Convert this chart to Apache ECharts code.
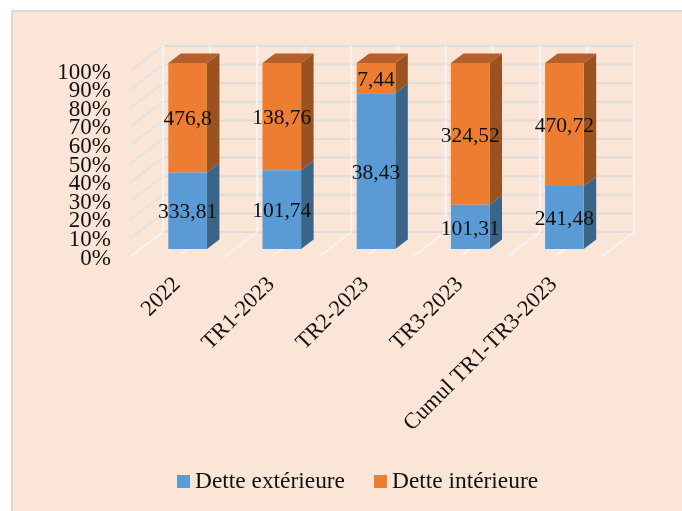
<!DOCTYPE html>
<html>
<head>
<meta charset="utf-8">
<style>html,body{margin:0;padding:0;background:#fff}#c{width:682px;height:511px}</style>
<script src="https://cdn.jsdelivr.net/npm/echarts@6/dist/echarts.min.js"></script>
</head>
<body>
<div id="c"></div>
<script>
const categories = ['2022', 'TR1-2023', 'TR2-2023', 'TR3-2023', 'Cumul TR1-TR3-2023'];
const exterieure = [333.81, 101.74, 38.43, 101.31, 241.48];
const interieure = [476.8, 138.76, 7.44, 324.52, 470.72];
const percentTicks = [0, 10, 20, 30, 40, 50, 60, 70, 80, 90, 100];
const halfSteps = [0, 1, 2, 3, 4, 5, 6, 7, 8, 9, 10];

const FONT = '"Liberation Serif", serif';
const WALL = [33, -25];          // depth of the 3D box
const BAR_NEAR = [10.5, -8];     // front face of bars inside the box
const BAR_DEPTH = [12.5, -9.5];  // bar thickness in depth
const BAR_RATIO = 0.41;
const fmt = v => String(v).replace('.', ',');

function wallGrid(params, api) {
  const v = api.value(1);
  const p = api.coord([0, v]);
  const band = api.size([1, 0])[0];
  const x0 = p[0] - band / 2, y0 = p[1];
  const xb = x0 + WALL[0], yb = y0 + WALL[1];
  return {
    type: 'group', children: [
      { type: 'line', shape: { x1: x0, y1: y0, x2: xb, y2: yb },
        style: { stroke: v === 0 ? '#f3f1ef' : '#e1e3e4', lineWidth: 2 } },
      { type: 'line', shape: { x1: xb, y1: yb, x2: xb + band * categories.length, y2: yb },
        style: { stroke: '#dfdcda', lineWidth: 2 } },
      { type: 'text', style: { x: x0 - 19, y: y0 + 1.5, text: v + '%', fill: '#111',
        font: '23px ' + FONT, align: 'right', verticalAlign: 'middle' } }
    ]
  };
}

function wallVerticals(params, api) {
  const k = api.value(0);
  const first = api.coord([0, 0]);
  const top = api.coord([0, 100]);
  const band = api.size([1, 0])[0];
  const x0 = first[0] - band / 2 + k * band / 2;
  const y0 = first[1];
  const st = { stroke: '#f6f3f1', lineWidth: 2 };
  return {
    type: 'group', children: [
      { type: 'line', shape: { x1: x0 + WALL[0], y1: top[1] + WALL[1], x2: x0 + WALL[0], y2: y0 + WALL[1] }, style: st },
      { type: 'line', shape: { x1: x0, y1: y0, x2: x0 + WALL[0], y2: y0 + WALL[1] }, style: st }
    ]
  };
}

function makeBar(colors, isTop) {
  return function (params, api) {
    const i = api.value(0), lo = api.value(1), hi = api.value(2), val = api.value(3);
    const band = api.size([1, 0])[0];
    const w = band * BAR_RATIO;
    const c = api.coord([i, lo]), d = api.coord([i, hi]);
    const xl = c[0] - w / 2 + BAR_NEAR[0], xr = xl + w;
    const yb = c[1] + BAR_NEAR[1], yt = d[1] + BAR_NEAR[1];
    const dx = BAR_DEPTH[0], dy = BAR_DEPTH[1];
    const kids = [
      { type: 'polygon', shape: { points: [[xr, yb], [xr + dx, yb + dy], [xr + dx, yt + dy], [xr, yt]] },
        style: { fill: colors.side } },
      { type: 'rect', shape: { x: xl, y: yt, width: w, height: yb - yt },
        style: { fill: colors.front } }
    ];
    if (isTop) kids.push({ type: 'polygon', shape: { points: [[xl, yt], [xl + dx, yt + dy], [xr + dx, yt + dy], [xr, yt]] },
      style: { fill: colors.top } });
    kids.push({ type: 'text', z2: 100, style: { x: (xl + xr) / 2, y: (yb + yt) / 2 + 2, text: fmt(val),
      fill: '#111', font: '21.5px ' + FONT, align: 'center', verticalAlign: 'middle' } });
    return { type: 'group', children: kids };
  };
}

const pct = categories.map((_, i) => 100 * exterieure[i] / (exterieure[i] + interieure[i]));
const blue = { front: '#5b9bd5', side: '#3a6488', top: '#44749f' };
const orange = { front: '#ed7d31', side: '#9a5220', top: '#b5602a' };

const chart = echarts.init(document.getElementById('c'), null, { renderer: 'canvas' });
chart.setOption({
  animation: false,
  backgroundColor: '#ffffff',
  graphic: [{ type: 'rect', z: -10, silent: true,
    shape: { x: 12, y: 11, width: 720, height: 560 },
    style: { fill: '#fbe5d6', stroke: '#d9d9d9', lineWidth: 2 } }],
  grid: { left: 130, top: 71, width: 471, height: 186, containLabel: false },
  xAxis: { type: 'category', data: categories,
    axisLine: { show: false }, axisTick: { show: false }, splitLine: { show: false },
    axisLabel: { rotate: 45, interval: 0, margin: 24, color: '#111', fontFamily: FONT, fontSize: 22.5, hideOverlap: false } },
  yAxis: { type: 'value', min: 0, max: 100, interval: 10,
    axisLine: { show: false }, axisTick: { show: false }, splitLine: { show: false },
    axisLabel: { show: false } },
  legend: { left: 177, top: 470, padding: 0, itemWidth: 13, itemHeight: 13, itemGap: 29, icon: 'rect',
    textStyle: { color: '#111', fontFamily: FONT, fontSize: 23.4 },
    data: ['Dette extérieure', 'Dette intérieure'] },
  series: [
    { type: 'custom', name: 'grid', silent: true, z: 1, renderItem: wallGrid,
      data: percentTicks.map(t => [0, t]), encode: { x: 0, y: 1 } },
    { type: 'custom', name: 'verticals', silent: true, z: 1, renderItem: wallVerticals,
      data: halfSteps.map(k => [k, 0]), encode: { y: 1 } },
    { type: 'custom', name: 'Dette extérieure', z: 3, itemStyle: { color: blue.front },
      renderItem: makeBar(blue, false),
      data: categories.map((_, i) => [i, 0, pct[i], exterieure[i]]), encode: { x: 0, y: [1, 2] } },
    { type: 'custom', name: 'Dette intérieure', z: 2, itemStyle: { color: orange.front },
      renderItem: makeBar(orange, true),
      data: categories.map((_, i) => [i, pct[i], 100, interieure[i]]), encode: { x: 0, y: [1, 2] } }
  ]
});
</script>
</body>
</html>
